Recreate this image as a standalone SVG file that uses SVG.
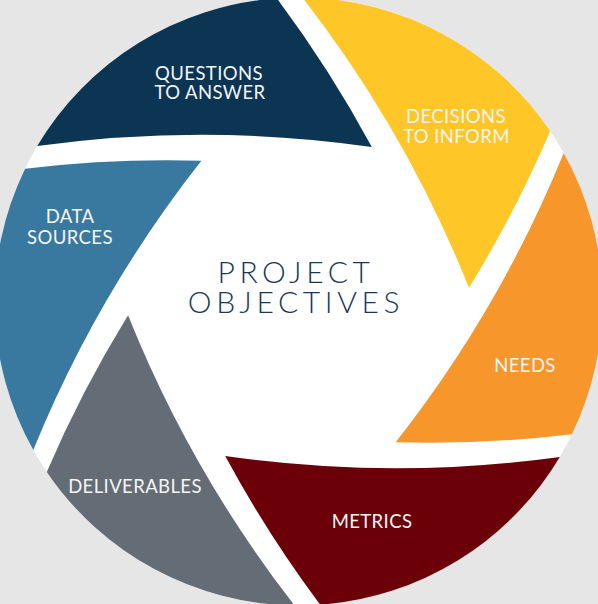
<svg xmlns="http://www.w3.org/2000/svg" width="598" height="604" viewBox="0 0 598 604">
  <defs>
    <path id="blade" d="M 276.8 -1.7 A 1200 1200 0 0 1 371.8 147 A 1200 1200 0 0 0 37.2 146.1 A 304 304 0 0 1 276.8 -1.7 Z"/>
  </defs>
  <style>
    .lbl { font-family: Lato, "Liberation Sans", sans-serif; font-size: 18.5px; fill: #f5f5f5; text-anchor: middle; letter-spacing: 0.4px; }
    .title { font-family: Lato, "Liberation Sans", sans-serif; font-size: 30px; font-weight: 300; fill: #1b3756; text-anchor: middle; letter-spacing: 4.6px; }
  </style>
  <rect x="0" y="0" width="598" height="604" fill="#e6e6e6"/>
  <circle id="disc" cx="298.5" cy="301.5" r="304" fill="#ffffff"/>
  <g id="connectors"/>
  <g id="questions">
    <use href="#blade" fill="#0c3453"/>
    <text class="lbl" x="209" y="79.5">QUESTIONS</text>
    <text class="lbl" x="210" y="99">TO ANSWER</text>
  </g>
  <g id="decisions">
    <use href="#blade" fill="#fec627" transform="rotate(60 298.5 301.5)"/>
    <text class="lbl" x="456" y="122.5">DECISIONS</text>
    <text class="lbl" x="456.5" y="142.5">TO INFORM</text>
  </g>
  <g id="needs">
    <use href="#blade" fill="#f7962a" transform="rotate(120 298.5 301.5)"/>
    <text class="lbl" x="525" y="372">NEEDS</text>
  </g>
  <g id="metrics">
    <use href="#blade" fill="#6c0008" transform="rotate(180 298.5 301.5)"/>
    <text class="lbl" x="372" y="528">METRICS</text>
  </g>
  <g id="deliverables">
    <use href="#blade" fill="#646c76" transform="rotate(240 298.5 301.5)"/>
    <text class="lbl" x="135" y="493">DELIVERABLES</text>
  </g>
  <g id="data-sources">
    <use href="#blade" fill="#3a799f" transform="rotate(300 298.5 301.5)"/>
    <text class="lbl" x="70" y="223">DATA</text>
    <text class="lbl" x="70" y="244">SOURCES</text>
  </g>
  <g id="project-objectives">
    <text class="title" x="296" y="283">PROJECT</text>
    <text class="title" x="296" y="313">OBJECTIVES</text>
  </g>
</svg>
